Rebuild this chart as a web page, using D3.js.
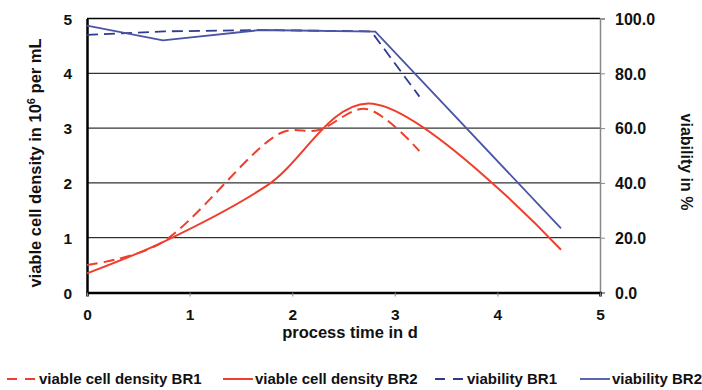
<!DOCTYPE html>
<html>
<head>
<meta charset="utf-8">
<script src="https://cdn.jsdelivr.net/npm/d3@7"></script>
<style>
body { margin: 0; background: #fff; }
text { font-family: "Liberation Sans", Arial, sans-serif; font-weight: bold; fill: #111; }
</style>
</head>
<body>
<script>
const W = 702, H = 390
const margin = {top: 18.5, left: 87, bottom: 97.5, right: 102}
const width = W - margin.left - margin.right
const height = H - margin.top - margin.bottom

const red = '#EF3E2C'
const blueDark = '#2E3B8E'
const blueLight = '#4A55A6'

// process time in d
const timeBR1 = [0, 0.7, 1.9, 2.25, 2.72, 3.24]
const vcdBR1 = [0.5, 0.88, 2.92, 2.96, 3.35, 2.58]
const timeBR2 = [0, 0.75, 1.76, 2.74, 4.62]
const vcdBR2 = [0.35, 0.93, 1.96, 3.45, 0.78]

const vTimeBR1 = [0, 0.75, 1.7, 2.77, 3.24]
const viabBR1 = [94.0, 95.3, 95.8, 95.3, 71.5]
const vTimeBR2 = [0, 0.74, 1.69, 2.81, 4.62]
const viabBR2 = [97.4, 92.0, 95.8, 95.2, 23.4]

const xTicks = [0, 1, 2, 3, 4, 5]
const yTicks = [0, 1, 2, 3, 4, 5]
const y2Ticks = [0, 20, 40, 60, 80, 100]

const series = [
  {name: 'viable cell density BR1', t: timeBR1, v: vcdBR1, axis: 'left', color: red, dash: '11,6', smooth: true, w: 2},
  {name: 'viable cell density BR2', t: timeBR2, v: vcdBR2, axis: 'left', color: red, dash: null, smooth: true, w: 2},
  {name: 'viability BR1', t: vTimeBR1, v: viabBR1, axis: 'right', color: blueDark, dash: '11,6', smooth: false, w: 1.8},
  {name: 'viability BR2', t: vTimeBR2, v: viabBR2, axis: 'right', color: blueLight, dash: null, smooth: false, w: 1.8}
]

let x = d3.scaleLinear().domain([0, 5]).range([0, width])
let y = d3.scaleLinear().domain([0, 5]).range([height, 0])
let y2 = d3.scaleLinear().domain([0, 100]).range([height, 0])

let svg = d3.select('body').append('svg')
  .attr('width', W).attr('height', H)

let g = svg.append('g').attr('transform', `translate(${margin.left},${margin.top})`)

// gridlines
g.selectAll('.grid').data(yTicks.filter(d => d > 0)).enter()
  .append('line')
  .attr('x1', 0).attr('x2', width)
  .attr('y1', d => y(d)).attr('y2', d => y(d))
  .attr('stroke', '#000').attr('stroke-width', d => d === 5 ? 1.5 : 1)

// left axis
let gy = g.append('g').call(d3.axisLeft(y).tickValues(yTicks).tickSize(0).tickPadding(15).tickFormat(d3.format('d')))
gy.select('.domain').attr('stroke', '#000').attr('stroke-width', 2.5)
gy.selectAll('text').style('font-size', '15.5px').attr('dy', '0.36em')

// right axis
let gy2 = g.append('g').attr('transform', `translate(${width},0)`)
  .call(d3.axisRight(y2).tickValues(y2Ticks).tickSize(5).tickPadding(10).tickFormat(d3.format('.1f')))
gy2.select('.domain').attr('stroke', '#888').attr('stroke-width', 1.5)
gy2.selectAll('.tick line').attr('stroke', '#888')
gy2.selectAll('text').style('font-size', '16px').attr('dy', '0.36em')

// bottom axis
let gx = g.append('g').attr('transform', `translate(0,${height})`)
  .call(d3.axisBottom(x).tickValues(xTicks).tickSize(4).tickPadding(12).tickFormat(d3.format('d')))
gx.select('.domain').attr('stroke', '#000').attr('stroke-width', 2.5)
gx.selectAll('.tick line').attr('stroke', '#888')
gx.selectAll('text').style('font-size', '15.5px').attr('dy', '0.71em')

// lines
series.forEach(s => {
  let ys = s.axis === 'left' ? y : y2
  let line = d3.line()
    .x(d => x(d[0])).y(d => ys(d[1]))
    .curve(s.smooth ? d3.curveCatmullRom.alpha(0.5) : d3.curveLinear)
  g.append('path')
    .datum(s.t.map((t, i) => [t, s.v[i]]))
    .attr('d', line)
    .attr('fill', 'none')
    .attr('stroke', s.color)
    .attr('stroke-width', s.w)
    .attr('stroke-dasharray', s.dash)
})

// axis titles
svg.append('text')
  .attr('transform', `translate(41,163) rotate(-90)`)
  .attr('text-anchor', 'middle')
  .style('font-size', '16.5px')
  .html('viable cell density in 10<tspan dy="-6" style="font-size:11px">6</tspan><tspan dy="6"> per mL</tspan>')

svg.append('text')
  .attr('transform', `translate(681,162) rotate(90)`)
  .attr('text-anchor', 'middle')
  .style('font-size', '16px')
  .text('viability in %')

svg.append('text')
  .attr('x', 350).attr('y', 338)
  .attr('text-anchor', 'middle')
  .style('font-size', '16.5px')
  .text('process time in d')

// legend
const legendX = [7, 223, 435, 580]
let lg = svg.selectAll('.legend').data(series).enter()
  .append('g').attr('transform', (d, i) => `translate(${legendX[i]},379)`)
lg.append('line')
  .attr('x1', 0).attr('x2', 30).attr('y1', 0).attr('y2', 0)
  .attr('stroke', d => d.color).attr('stroke-width', d => d.w)
  .attr('stroke-dasharray', d => d.dash ? '10,8' : null)
lg.append('text')
  .attr('x', 32).attr('y', 0).attr('dy', '0.36em')
  .style('font-size', '15px')
  .text(d => d.name)
</script>
</body>
</html>
